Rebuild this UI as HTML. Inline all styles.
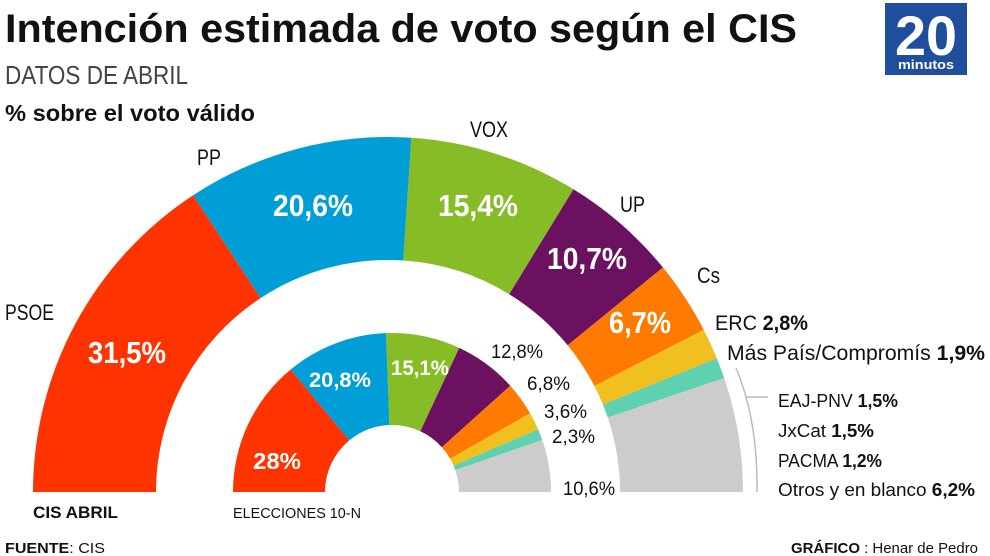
<!DOCTYPE html>
<html><head><meta charset="utf-8"><style>
body{margin:0;background:#fff}
svg{display:block}
text{font-family:"Liberation Sans",sans-serif}
</style></head><body>
<svg id="s" width="990" height="556" viewBox="0 0 990 556" xmlns="http://www.w3.org/2000/svg">
<g id="arcs"></g>
<path d="M736 368 Q758 420 757 492" fill="none" stroke="#bbb" stroke-width="1.5"/>
<line x1="746" y1="397" x2="768" y2="397" stroke="#bbb" stroke-width="1.5"/>
<rect x="885" y="3" width="82" height="72" fill="#1f4e9c"/>
<text x="926" y="55" text-anchor="middle" font-size="56" font-weight="bold" fill="#fff" textLength="62" lengthAdjust="spacingAndGlyphs">20</text>
<text x="926" y="69" text-anchor="middle" font-size="13" font-weight="bold" fill="#fff" textLength="56" lengthAdjust="spacingAndGlyphs">minutos</text>
<g fill="#111">
<text x="5" y="42" font-size="40" font-weight="bold" textLength="792" lengthAdjust="spacingAndGlyphs">Intención estimada de voto según el CIS</text>
<text x="5" y="84" font-size="26" fill="#444" textLength="183" lengthAdjust="spacingAndGlyphs">DATOS DE ABRIL</text>
<text x="5" y="121" font-size="23" font-weight="bold" textLength="250" lengthAdjust="spacingAndGlyphs">% sobre el voto válido</text>
<text x="470" y="137" font-size="22" textLength="38" lengthAdjust="spacingAndGlyphs">VOX</text>
<text x="197" y="165" font-size="22" textLength="24" lengthAdjust="spacingAndGlyphs">PP</text>
<text x="5" y="320" font-size="22" textLength="49" lengthAdjust="spacingAndGlyphs">PSOE</text>
<text x="620" y="212" font-size="22" textLength="25" lengthAdjust="spacingAndGlyphs">UP</text>
<text x="697" y="283" font-size="22" textLength="23" lengthAdjust="spacingAndGlyphs">Cs</text>
<text x="715" y="330" font-size="21" textLength="93" lengthAdjust="spacingAndGlyphs">ERC <tspan font-weight="bold">2,8%</tspan></text>
<text x="727" y="360" font-size="21" textLength="258" lengthAdjust="spacingAndGlyphs">Más País/Compromís <tspan font-weight="bold">1,9%</tspan></text>
<text x="778" y="407" font-size="18" textLength="120" lengthAdjust="spacingAndGlyphs">EAJ-PNV <tspan font-weight="bold">1,5%</tspan></text>
<text x="778" y="437" font-size="18" textLength="96" lengthAdjust="spacingAndGlyphs">JxCat <tspan font-weight="bold">1,5%</tspan></text>
<text x="778" y="467" font-size="18" textLength="104" lengthAdjust="spacingAndGlyphs">PACMA <tspan font-weight="bold">1,2%</tspan></text>
<text x="778" y="496" font-size="18" textLength="197" lengthAdjust="spacingAndGlyphs">Otros y en blanco <tspan font-weight="bold">6,2%</tspan></text>
<text x="791" y="553" font-size="15" textLength="187" lengthAdjust="spacingAndGlyphs"><tspan font-weight="bold">GRÁFICO</tspan> : Henar de Pedro</text>
<text x="5" y="553" font-size="15" textLength="100" lengthAdjust="spacingAndGlyphs"><tspan font-weight="bold">FUENTE</tspan>: CIS</text>
<text x="33" y="518" font-size="17" font-weight="bold" textLength="85" lengthAdjust="spacingAndGlyphs">CIS ABRIL</text>
<text x="233" y="518" font-size="15" textLength="128" lengthAdjust="spacingAndGlyphs">ELECCIONES 10-N</text>
<text x="491" y="358" font-size="19" textLength="52" lengthAdjust="spacingAndGlyphs">12,8%</text>
<text x="527" y="390" font-size="19" textLength="43" lengthAdjust="spacingAndGlyphs">6,8%</text>
<text x="544" y="418" font-size="19" textLength="43" lengthAdjust="spacingAndGlyphs">3,6%</text>
<text x="552" y="443" font-size="19" textLength="43" lengthAdjust="spacingAndGlyphs">2,3%</text>
<text x="563" y="495" font-size="19" textLength="52" lengthAdjust="spacingAndGlyphs">10,6%</text>
</g>
<g fill="#fff" font-weight="bold" text-anchor="middle">
<text x="127" y="363" font-size="31" textLength="78" lengthAdjust="spacingAndGlyphs">31,5%</text>
<text x="313" y="216" font-size="31" textLength="80" lengthAdjust="spacingAndGlyphs">20,6%</text>
<text x="478" y="216" font-size="31" textLength="80" lengthAdjust="spacingAndGlyphs">15,4%</text>
<text x="587" y="269" font-size="31" textLength="80" lengthAdjust="spacingAndGlyphs">10,7%</text>
<text x="640" y="333" font-size="31" textLength="62" lengthAdjust="spacingAndGlyphs">6,7%</text>
<text x="277" y="469" font-size="23" textLength="48" lengthAdjust="spacingAndGlyphs">28%</text>
<text x="340" y="387" font-size="21" textLength="62" lengthAdjust="spacingAndGlyphs">20,8%</text>
<text x="420" y="375" font-size="21" textLength="58" lengthAdjust="spacingAndGlyphs">15,1%</text>
</g>
</svg>
<script>
var C=["#ff3300","#009ed6","#86bc25","#6b1160","#ff7a00","#f0c020","#5fd0b0","#cccccc"];
function ring(cx,cy,R,r,vals){var a=0,out="";for(var i=0;i<vals.length;i++){var a0=Math.PI*(1-a/100);a+=vals[i];var a1=Math.PI*(1-a/100);
function p(rad,an){return (cx+rad*Math.cos(an)).toFixed(2)+" "+(cy-rad*Math.sin(an)).toFixed(2);}
out+='<path fill="'+C[i]+'" d="M'+p(R,a0)+' A'+R+' '+R+' 0 0 1 '+p(R,a1)+' L'+p(r,a1)+' A'+r+' '+r+' 0 0 0 '+p(r,a0)+' Z"/>';}return out;}
document.getElementById("arcs").innerHTML=ring(388,492,355,232,[31.5,20.6,15.4,10.7,6.7,2.8,1.9,10.4])+ring(392,492,159,67,[28,20.8,15.1,12.8,6.8,3.6,2.3,10.6]);
</script>
</body></html>
